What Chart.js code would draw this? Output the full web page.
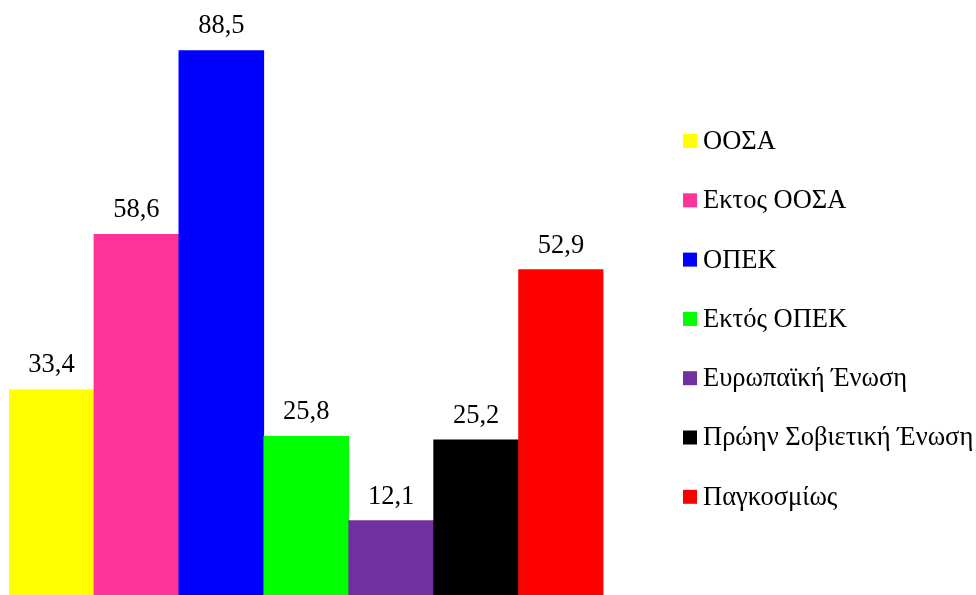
<!DOCTYPE html>
<html>
<head>
<meta charset="utf-8">
<script src="https://cdn.jsdelivr.net/npm/chart.js@4"></script>
<style>
  html, body { margin: 0; padding: 0; background: #fff; }
  #chart { display: block; }
</style>
</head>
<body>
<canvas id="chart" width="976" height="595"></canvas>
<script>
const regions = ["ΟΟΣΑ", "Εκτος ΟΟΣΑ", "ΟΠΕΚ", "Εκτός ΟΠΕΚ", "Ευρωπαϊκή Ένωση", "Πρώην Σοβιετική Ένωση", "Παγκοσμίως"];
const values = [33.4, 58.6, 88.5, 25.8, 12.1, 25.2, 52.9];
const colors = ["#FFFF00", "#FF3399", "#0000FF", "#00FF00", "#7030A0", "#000000", "#FF0000"];

const serif = '"Liberation Serif", "DejaVu Serif", serif';

// numbers over the bars, with a decimal comma
const valueLabels = {
  id: "valueLabels",
  afterDatasetsDraw(chart) {
    const ctx = chart.ctx;
    const meta = chart.getDatasetMeta(0);
    ctx.save();
    ctx.font = "26.5px " + serif;
    ctx.fillStyle = "#000";
    ctx.textAlign = "center";
    ctx.textBaseline = "alphabetic";
    meta.data.forEach((bar, i) => {
      const txt = values[i].toFixed(1).replace(".", ",");
      ctx.fillText(txt, bar.x, bar.y - 17);
    });
    ctx.restore();
  }
};

// legend column on the right, one row per region
const sideLegend = {
  id: "sideLegend",
  afterDraw(chart) {
    const ctx = chart.ctx;
    const left = 683, top = 141, step = 59.3, box = 14;
    ctx.save();
    ctx.font = "26.5px " + serif;
    ctx.textAlign = "left";
    ctx.textBaseline = "middle";
    regions.forEach((name, i) => {
      const cy = top + i * step;
      ctx.fillStyle = colors[i];
      ctx.fillRect(left, cy - box / 2, box, box);
      ctx.fillStyle = "#000";
      ctx.fillText(name, left + box + 6, cy + 1);
    });
    ctx.restore();
  }
};

new Chart(document.getElementById("chart"), {
  type: "bar",
  data: {
    labels: regions,
    datasets: [{
      data: values,
      backgroundColor: colors,
      borderWidth: 0,
      categoryPercentage: 1,
      barPercentage: 1
    }]
  },
  options: {
    responsive: false,
    animation: false,
    layout: { padding: { left: 9, right: 372.5, top: 0, bottom: 0 } },
    scales: {
      x: { display: false },
      y: { display: false, min: 0, max: 96.7 }
    },
    plugins: {
      legend: { display: false },
      tooltip: { enabled: false }
    }
  },
  plugins: [valueLabels, sideLegend]
});
</script>
</body>
</html>
